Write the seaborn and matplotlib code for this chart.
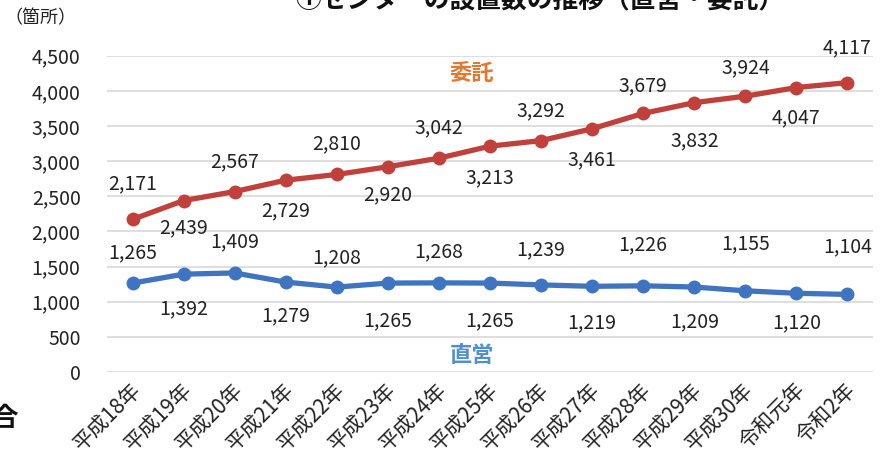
import matplotlib
matplotlib.use("Agg")
import matplotlib.pyplot as plt
import matplotlib.transforms as mtransforms
import seaborn as sns
import pandas as pd

# Fiscal years on the x axis
years = ["平成18年", "平成19年", "平成20年", "平成21年", "平成22年", "平成23年",
         "平成24年", "平成25年", "平成26年", "平成27年", "平成28年", "平成29年",
         "平成30年", "令和元年", "令和2年"]
# Number of centres: outsourced (委託) and directly operated (直営)
itaku = [2171, 2439, 2567, 2729, 2810, 2920, 3042, 3213, 3292, 3461, 3679, 3832, 3924, 4047, 4117]
chokuei = [1265, 1392, 1409, 1279, 1208, 1265, 1268, 1265, 1239, 1219, 1226, 1209, 1155, 1120, 1104]
y_ticks = [0, 500, 1000, 1500, 2000, 2500, 3000, 3500, 4000, 4500]

# Vertical placement of each value label relative to its point (pixels, + = above)
itaku_label_dy = [36, -27, 30, -31, 31, -28, 30, -32, 30, -31, 28, -38, 28, -30, 35]
chokuei_label_dy = [30, -35, 31, -34, 29, -38, 31, -38, 35, -36, 41, -35, 47, -30, 48]

sns.set_theme(style="white")
plt.rcParams["font.family"] = ["Noto Sans CJK JP", "DejaVu Sans"]

RED = "#c0413c"
BLUE = "#3f74c0"
TEXT = "#222222"
DPI = 100

df = pd.DataFrame({"年": years * 2,
                   "箇所": itaku + chokuei,
                   "区分": ["委託"] * len(years) + ["直営"] * len(years)})

fig = plt.figure(figsize=(8.82, 4.68), dpi=DPI)
ax = fig.add_axes([107 / 882, 1 - 372 / 468, 766 / 882, (372 - 55.7) / 468])

sns.lineplot(data=df, x="年", y="箇所", hue="区分", palette={"委託": RED, "直営": BLUE},
             marker="o", markersize=10, markeredgewidth=0, linewidth=3.8,
             legend=False, ax=ax, sort=False)

ax.set_xlim(-0.5, len(years) - 0.5)
ax.set_ylim(0, 4500)
ax.set_yticks(y_ticks)
ax.set_yticklabels([f"{v:,}" for v in y_ticks], fontsize=14, color=TEXT)
ax.grid(axis="y", color="#d4d4d4", linewidth=1.1)
ax.grid(axis="x", visible=False)
for s in ax.spines.values():
    s.set_visible(False)
ax.tick_params(axis="y", length=0, pad=19)
ax.tick_params(axis="x", length=0, pad=2)
ax.set_xticks(range(len(years)))
ax.set_xticklabels(years, rotation=45, ha="right", va="center",
                   rotation_mode="anchor", fontsize=15, color=TEXT)
shift = mtransforms.ScaledTranslation(5 / DPI, -12 / DPI, fig.dpi_scale_trans)
for lab in ax.get_xticklabels():
    lab.set_transform(lab.get_transform() + shift)
ax.set_xlabel("")
ax.set_ylabel("")

# Value labels, alternating above and below the points
px_to_pt = 72 / DPI
for i, (v, dy) in enumerate(zip(itaku, itaku_label_dy)):
    ax.annotate(f"{v:,}", (i, v), xytext=(0, dy * px_to_pt), textcoords="offset points",
                ha="center", va="center", fontsize=14, color=TEXT)
for i, (v, dy) in enumerate(zip(chokuei, chokuei_label_dy)):
    ax.annotate(f"{v:,}", (i, v), xytext=(0, dy * px_to_pt), textcoords="offset points",
                ha="center", va="center", fontsize=14, color=TEXT)

ax.text(6.64, 4250, "委託", color="#e3782e", fontsize=16, fontweight="bold",
        ha="center", va="center")
ax.text(6.64, 228, "直営", color="#4f8fcf", fontsize=16, fontweight="bold",
        ha="center", va="center")

fig.text(4 / 882, 1 - 18 / 468, "（箇所）", fontsize=13, color=TEXT,
         ha="left", va="center")
fig.text(540 / 882, 1 + 0 / 468, "①センターの設置数の推移（直営・委託）",
         fontsize=18.5, fontweight="bold", color="#111111", ha="center", va="center")
fig.text(-9 / 882, 1 - 418 / 468, "合", fontsize=19, fontweight="bold",
         color="#111111", ha="left", va="center")

fig.savefig("out.png", dpi=DPI, facecolor="white")
